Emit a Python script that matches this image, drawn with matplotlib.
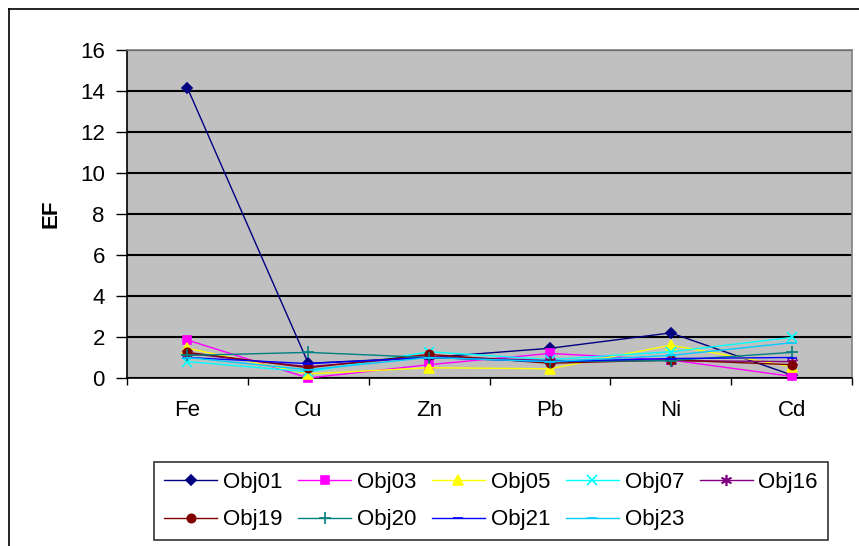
import numpy as np
import matplotlib
matplotlib.use("Agg")
import matplotlib.pyplot as plt
from matplotlib.lines import Line2D

plt.rcParams['font.family'] = ['Liberation Sans', 'DejaVu Sans']

elements = ['Fe', 'Cu', 'Zn', 'Pb', 'Ni', 'Cd']
y_ticks = [0, 2, 4, 6, 8, 10, 12, 14, 16]

obj01 = [14.15, 0.72, 1.0, 1.45, 2.2, 0.15]
obj03 = [1.85, 0.0, 0.65, 1.2, 0.88, 0.08]
obj05 = [1.45, 0.2, 0.5, 0.45, 1.6, 0.55]
obj07 = [0.8, 0.3, 1.28, 0.9, 1.28, 1.98]
obj16 = [1.2, 0.55, 1.05, 0.85, 0.85, 0.8]
obj19 = [1.25, 0.5, 1.15, 0.72, 0.88, 0.65]
obj20 = [1.1, 1.25, 1.0, 0.8, 0.85, 1.25]
obj21 = [1.0, 0.7, 1.0, 0.8, 0.95, 1.0]
obj23 = [1.0, 0.4, 1.0, 0.8, 1.1, 1.72]

series = [
    ('Obj01', obj01, '#000080', 'D', 5),
    ('Obj03', obj03, '#FF00FF', 's', 6),
    ('Obj05', obj05, '#FFFF00', '^', 7),
    ('Obj07', obj07, '#00FFFF', 'x', 7),
    ('Obj16', obj16, '#800080', (6, 2, 0), 8),
    ('Obj19', obj19, '#800000', 'o', 6),
    ('Obj20', obj20, '#008080', '+', 9),
    ('Obj21', obj21, '#0000FF', '_', 7),
    ('Obj23', obj23, '#00CCFF', '_', 7),
]

fig = plt.figure(figsize=(8.59, 5.46), dpi=100)

# outer chart border
fig.add_artist(Line2D([9/859, 9/859], [0, 1 - 9/546], color='black', lw=1.2,
                      transform=fig.transFigure))
fig.add_artist(Line2D([9/859, 1], [1 - 9/546, 1 - 9/546], color='black', lw=1.2,
                      transform=fig.transFigure))

ax = fig.add_axes([127/859, 1 - 378/546, (852 - 127)/859, (378 - 50)/546])
ax.set_facecolor('#C0C0C0')

x = np.arange(len(elements))
handles = []
for name, vals, color, marker, ms in series:
    h, = ax.plot(x, vals, color=color, lw=1.0, marker=marker, markersize=ms,
                 markeredgewidth=1.2, markerfacecolor=color, markeredgecolor=color,
                 label=name, clip_on=False, zorder=3)
    handles.append(h)

ax.set_xlim(-0.5, len(elements) - 0.5)
ax.set_ylim(0, 16)
ax.set_yticks(y_ticks)
ax.yaxis.grid(True, color='black', lw=1.5)
ax.set_axisbelow(True)

ax.set_xticks(np.arange(-0.5, len(elements), 1.0))
ax.set_xticklabels([])
ax.set_xticks(x, minor=True)
ax.set_xticklabels(elements, minor=True)
ax.tick_params(axis='x', which='major', direction='out', length=5, width=1)
ax.tick_params(axis='x', which='minor', length=0, pad=16, labelsize=16)
ax.tick_params(axis='y', direction='out', length=8, width=1, labelsize=16, pad=8)

for side in ['left', 'bottom']:
    ax.spines[side].set_color('black')
    ax.spines[side].set_linewidth(1.2)
for side in ['top', 'right']:
    ax.spines[side].set_color('#808080')
    ax.spines[side].set_linewidth(1.2)

ax.set_ylabel('EF', fontsize=16, fontweight='bold', labelpad=13)

# row-wise legend order for a 2 x 5 layout
order = [0, 5, 1, 6, 2, 7, 3, 8, 4]
leg = fig.legend([handles[i] for i in order], [series[i][0] for i in order],
                 loc='center', ncol=5, bbox_to_anchor=(491/859, 1 - 501/546),
                 fontsize=16, frameon=True, fancybox=False, edgecolor='black',
                 handlelength=2.4, handletextpad=0.25, columnspacing=0.7,
                 borderpad=0.45, labelspacing=0.75)
leg.get_frame().set_linewidth(1.2)

fig.savefig('out.png', dpi=100)
